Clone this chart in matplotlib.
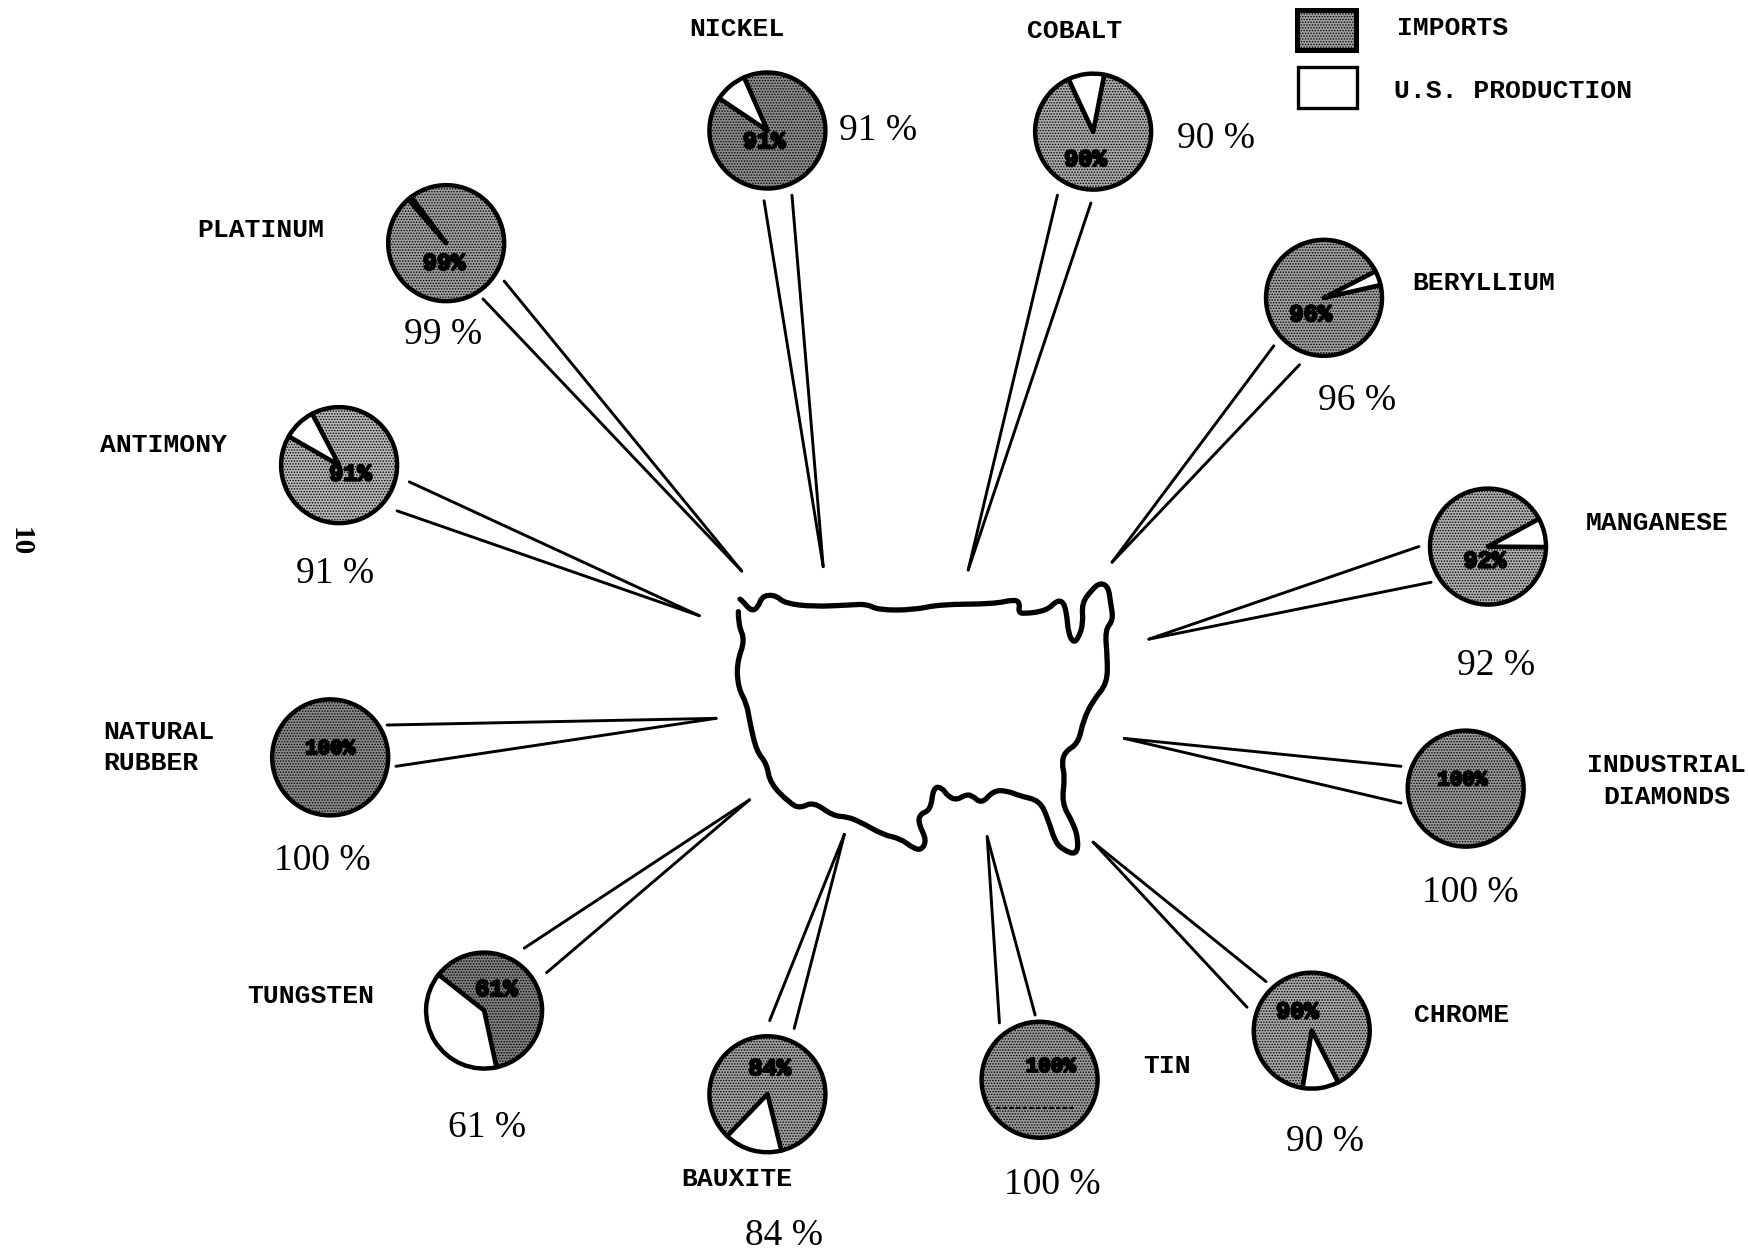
import matplotlib
matplotlib.use("Agg")
import matplotlib.pyplot as plt
import matplotlib.patheffects as pe
from matplotlib.patches import Rectangle, PathPatch
from matplotlib.path import Path

# ---- data ----
minerals = ["NICKEL", "COBALT", "BERYLLIUM", "MANGANESE", "INDUSTRIAL\nDIAMONDS", "CHROME",
            "TIN", "BAUXITE", "TUNGSTEN", "NATURAL\nRUBBER", "ANTIMONY", "PLATINUM"]
imports_pct = [91, 90, 96, 92, 100, 90, 100, 84, 61, 100, 91, 99]
legend_labels = ["IMPORTS", "U.S. PRODUCTION"]
page_number = "10"

# ---- layout (reference pixels at 1568 wide, scaled below) ----
S = 1749 / 1568
W, H = 1749, 1250
pie_centres = [(688, 117), (980, 118), (1187, 267), (1334, 490), (1314, 707), (1176, 924),
               (932, 968), (688, 981), (434, 906), (296, 679), (304, 417), (400, 218)]
wedge_dirs = [130, 97, 20, 14, 0, -81, 0, 255, 212, 0, 134, 129]
fill_greys = ["#8c8c8c", "#ababab", "#a0a0a0", "#b0b0b0", "#989898", "#a8a8a8",
              "#9a9a9a", "#a0a0a0", "#808080", "#8a8a8a", "#b8b8b8", "#a0a0a0"]
inner_pos = [(685, 127), (973, 143), (1175, 282), (1331, 503), (1311, 699), (1163, 907),
             (942, 956), (690, 958), (445, 887), (296, 671), (314, 425), (398, 236)]
pct_pos = [(787, 117), (1090, 124), (1217, 359), (1341, 597), (1318, 800), (1188, 1024),
           (943, 1062), (703, 1108), (437, 1011), (289, 772), (300, 514), (397, 300)]
label_pos = [(618, 26, "left"), (921, 28, "left"), (1266, 254, "left"), (1422, 469, "left"),
             (1494, 700, "center"), (1268, 910, "left"), (1025, 956, "left"), (611, 1057, "left"),
             (222, 893, "left"), (93, 670, "left"), (90, 399, "left"), (177, 206, "left")]
spokes = [((738, 508), (710, 175), (685, 180)), ((868, 511), (948, 175), (978, 182)),
          ((997, 504), (1142, 310), (1165, 327)), ((1030, 573), (1272, 490), (1283, 522)),
          ((1008, 662), (1256, 687), (1256, 720)), ((980, 755), (1135, 880), (1118, 903)),
          ((885, 750), (896, 917), (928, 910)), ((757, 748), (690, 915), (712, 922)),
          ((672, 717), (470, 850), (490, 872)), ((642, 644), (347, 650), (355, 687)),
          ((627, 552), (367, 432), (356, 458)), ((665, 512), (452, 252), (433, 268))]
# outline, zoom-crop pixels (3x, origin 700,560 in the full-size picture)
outline = [(115,115),(125,120),(155,155),(175,140),(185,112),(205,105),(230,108),(255,130),(340,140),
           (450,135),(500,132),(535,150),(640,150),(720,133),(880,132),(945,118),(960,130),(955,155),
           (970,162),(1040,152),(1070,122),(1090,125),(1100,160),(1105,220),(1120,248),(1135,235),
           (1150,190),(1145,130),(1175,90),(1200,68),(1225,80),(1232,130),(1240,180),(1215,210),
           (1222,290),(1222,370),(1180,420),(1150,480),(1135,550),(1095,575),(1085,610),(1095,650),
           (1085,730),(1120,790),(1135,840),(1130,885),(1090,870),(1065,845),(1045,780),(1020,722),
           (960,708),(920,692),(880,692),(845,732),(815,705),(795,705),(770,720),(745,710),(725,682),
           (700,682),(692,750),(660,762),(655,790),(680,840),(665,870),(640,865),(600,835),(550,825),
           (480,785),(440,770),(400,768),(340,725),(300,745),(270,730),(210,670),(200,610),(170,575),
           (150,490),(140,430),(115,385),(110,310),(135,240),(115,195),(115,115)]

plt.rcParams["hatch.linewidth"] = 0.7
fig = plt.figure(figsize=(W / 100, H / 100), dpi=100)
ax = fig.add_axes([0, 0, 1, 1])
ax.set_xlim(0, W)
ax.set_ylim(0, H)
ax.set_aspect("equal")
ax.axis("off")


def P(x, y):
    return x * S, H - y * S


MONO = "Liberation Mono"
SERIF = "Liberation Serif"
STIPPLE = "......"

# map: quadratic smoothing through the outline's midpoints
pts = [(700 + x / 3, H - (560 + y / 3)) for x, y in outline]
mid = [((a[0] + b[0]) / 2, (a[1] + b[1]) / 2) for a, b in zip(pts[:-1], pts[1:])]
verts = [mid[0]]
codes = [Path.MOVETO]
for i in range(1, len(mid)):
    verts += [pts[i], mid[i]]
    codes += [Path.CURVE3, Path.CURVE3]
ax.add_patch(PathPatch(Path(verts, codes), fill=False, edgecolor="black", lw=3.8,
                       joinstyle="round", capstyle="round"))

# spokes
for tip, a, b in spokes:
    for end in (a, b):
        x0, y0 = P(*tip)
        x1, y1 = P(*end)
        ax.plot([x0, x1], [y0, y1], color="black", lw=2.1, solid_capstyle="round")

# pies
for name, imp, c, d, g, ip, pp, lp in zip(minerals, imports_pct, pie_centres, wedge_dirs, fill_greys,
                                          inner_pos, pct_pos, label_pos):
    prod = 100 - imp
    vals = [imp, prod] if prod else [imp]
    cols = [g, "white"] if prod else [g]
    wedges, _ = ax.pie(vals, center=P(*c), radius=58, colors=cols, frame=False,
                       startangle=d + prod * 1.8, counterclock=True,
                       wedgeprops=dict(edgecolor="black", linewidth=3.2, joinstyle="round"))
    wedges[0].set_hatch(STIPPLE)
    ix, iy = P(*ip)
    ax.text(ix, iy, f"{imp}%", family=MONO, weight="bold", fontsize=17 if imp < 100 else 15, color="black",
            ha="center", va="center", zorder=6,
            path_effects=[pe.withStroke(linewidth=1.6, foreground="black")])
    px, py = P(*pp)
    ax.text(px, py, f"{imp} %", family=SERIF, fontsize=27, color="black", ha="center", va="center")
    lx, ly = P(lp[0], lp[1])
    ax.text(lx, ly, name, family=MONO, weight="bold", fontsize=19, color="black", ha=lp[2],
            va="center", linespacing=1.4)

ax.set_xlim(0, W)
ax.set_ylim(0, H)

# faint rule inside the TIN pie
tx0, ty = P(893, 993)
tx1, _ = P(965, 993)
ax.plot([tx0, tx1], [ty, ty], color="black", lw=1.6, ls=(0, (2, 1)), zorder=6)

# legend
for (x0, y0, x1, y1), fc, hatch, lw, lab, tp in [
        ((1163, 9, 1216, 45), "#a0a0a0", STIPPLE, 3.6, legend_labels[0], (1252, 25)),
        ((1164, 60, 1217, 97), "white", None, 2.4, legend_labels[1], (1250, 82))]:
    xa, ya = P(x0, y1)
    xb, yb = P(x1, y0)
    ax.add_patch(Rectangle((xa, ya), xb - xa, yb - ya, facecolor=fc, edgecolor="black", lw=lw, hatch=hatch))
    tx, ty = P(*tp)
    ax.text(tx, ty, lab, family=MONO, weight="bold", fontsize=19, ha="left", va="center")

# page number
nx, ny = P(18, 486)
ax.text(nx, ny, page_number, family=SERIF, weight="bold", fontsize=21, rotation=-90,
        ha="center", va="center")

fig.savefig("out.png", dpi=100, facecolor="white")
